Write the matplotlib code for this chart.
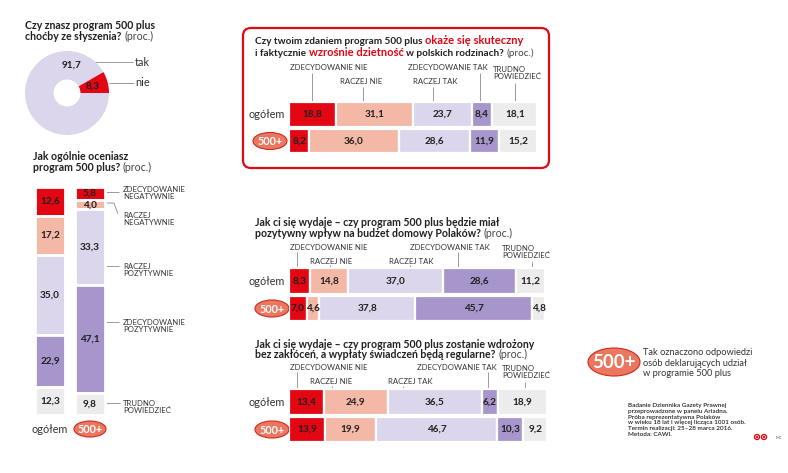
import matplotlib
matplotlib.use('Agg')
import matplotlib.pyplot as plt
from matplotlib.patches import Ellipse, FancyBboxPatch, Circle
import numpy as np

# ---------------- data ----------------
donut_labels = ['tak', 'nie']
donut_values = [91.7, 8.3]

overall_cats = ['ZDECYDOWANIE\nNEGATYWNIE', 'RACZEJ\nNEGATYWNIE', 'RACZEJ\nPOZYTYWNIE',
                'ZDECYDOWANIE\nPOZYTYWNIE', 'TRUDNO\nPOWIEDZIEĆ']
overall_ogolem = [12.6, 17.2, 35.0, 22.9, 12.3]
overall_500 = [5.8, 4.0, 33.3, 47.1, 9.8]

hbar_cats = ['ZDECYDOWANIE NIE', 'RACZEJ NIE', 'RACZEJ TAK', 'ZDECYDOWANIE TAK', 'TRUDNO\nPOWIEDZIEĆ']
row_labels = ['ogółem', '500+']
q1_ogolem = [18.8, 31.1, 23.7, 8.4, 18.1]
q1_500 = [8.2, 36.0, 28.6, 11.9, 15.2]
q2_ogolem = [8.3, 14.8, 37.0, 28.6, 11.2]
q2_500 = [7.0, 4.6, 37.8, 45.7, 4.8]
q3_ogolem = [13.4, 24.9, 36.5, 6.2, 18.9]
q3_500 = [13.9, 19.9, 46.7, 10.3, 9.2]

# ---------------- style ----------------
RED = '#e30613'
PINK = '#f4b8a6'
LAV = '#dcd6ec'
PURP = '#a796cb'
GRAY = '#ececec'
CORAL = '#ea7760'
DARK = '#231f20'
LINE = '#8a8a8a'
seg_colors = [RED, PINK, LAV, PURP, GRAY]

plt.rcParams['font.family'] = ['Lato', 'DejaVu Sans']

W, H = 788, 473
fig = plt.figure(figsize=(W / 100, H / 100), dpi=100)
fig.patch.set_facecolor('white')

# background axes in pixel coordinates (y downwards)
bg = fig.add_axes([0, 0, 1, 1])
bg.set_xlim(0, W)
bg.set_ylim(H, 0)
bg.axis('off')
bg.set_zorder(0)

renderer = fig.canvas.get_renderer()


def T(x, y, s, **kw):
    kw.setdefault('color', DARK)
    return bg.text(x, y, s, **kw)


def L(xs, ys, color=LINE, lw=0.6):
    bg.plot(xs, ys, color=color, lw=lw, solid_capstyle='butt')


def rich(x, y, parts, gap=2.6):
    cx = x
    for s, kw in parts:
        t = T(cx, y, s, va='baseline', ha='left', **kw)
        bb = t.get_window_extent(renderer)
        cx += bb.width + gap


def badge(x, y, w, h, fs):
    bg.add_patch(Ellipse((x, y), w, h, facecolor=CORAL, edgecolor='#d4281c', lw=0.8, zorder=3))
    T(x, y + 0.5, '500+', ha='center', va='center', color='white', fontsize=fs,
      fontweight='bold', zorder=4)


def px_axes(x0, y0, x1, y1):
    ax = fig.add_axes([x0 / W, 1 - y1 / H, (x1 - x0) / W, (y1 - y0) / H])
    ax.axis('off')
    ax.set_zorder(2)
    return ax


BOLD = dict(fontweight='bold')
TFS = 7.6
VFS = 7.2
CFS = 5.6

# ---------------- donut ----------------
rich(25, 29, [('Czy znasz program 500 plus', dict(fontsize=TFS, **BOLD))])
rich(25, 40, [('choćby ze słyszenia?', dict(fontsize=TFS, **BOLD)),
              ('(proc.)', dict(fontsize=TFS, color='#444444'))])

axd = px_axes(25, 51, 109, 135)
axd.pie(donut_values, colors=[LAV, RED], startangle=360 * donut_values[1] / 100,
        counterclock=True, radius=1, wedgeprops=dict(width=0.68, edgecolor='none'))
axd.set_xlim(-1, 1)
axd.set_ylim(-1, 1)
axd.text(0.1, 0.67, f'{donut_values[0]:.1f}'.replace('.', ','), ha='center', va='center',
         fontsize=VFS, fontweight='bold', color=DARK)
ang = np.deg2rad(360 * donut_values[1] / 200)
axd.text(0.62 * np.cos(ang), 0.62 * np.sin(ang), f'{donut_values[1]:.1f}'.replace('.', ','),
         ha='center', va='center', fontsize=VFS, fontweight='bold', color=DARK)
L([93, 133], [62, 62])
L([109, 134], [83, 83])
T(135, 62, donut_labels[0], ha='left', va='center', fontsize=7.8, color='#333333')
T(135, 83, donut_labels[1], ha='left', va='center', fontsize=7.8, color='#333333')

# ---------------- vertical stacked ----------------
rich(33, 160, [('Jak ogólnie oceniasz', dict(fontsize=TFS, **BOLD))])
rich(33, 171, [('program 500 plus?', dict(fontsize=TFS, **BOLD)),
               ('(proc.)', dict(fontsize=TFS, color='#444444'))])

axv = px_axes(30, 187, 110, 415)
axv.set_xlim(-0.5, 1.5)
axv.set_ylim(100, 0)
for xi, vals in enumerate([overall_ogolem, overall_500]):
    bottom = 0
    for v, c in zip(vals, seg_colors):
        axv.bar(xi, v, bottom=bottom, width=0.76, color=c, edgecolor='white', linewidth=2.0)
        axv.text(xi, bottom + v / 2, f'{v:.1f}'.replace('.', ','), ha='center', va='center',
                 fontsize=VFS, fontweight='bold', color=DARK)
        bottom += v

vlab_y = [193, 219, 270, 326, 407]
for lab, yy in zip(overall_cats, vlab_y):
    T(123, yy, lab, ha='left', va='center', fontsize=CFS, color='#333333', linespacing=1.15)
L([106, 119], [192, 192])
L([106, 114, 118], [203, 203, 214])
L([106, 119], [266, 266])
L([106, 119], [322, 322])
L([106, 120], [403, 403])
T(50, 429, row_labels[0], ha='center', va='center', fontsize=7.8, color='#333333')
badge(90, 429, 32, 16, 7.8)

# ---------------- horizontal charts ----------------
def hchart(x0, x1, yc0, yc1, rows, label_pos, leaders, badge_x):
    sp = yc1 - yc0
    ax = px_axes(x0, yc0 - sp / 2, x1, yc1 + sp / 2)
    ax.set_xlim(0, 100)
    ax.set_ylim(1.5, -0.5)
    for ri, vals in enumerate(rows):
        left = 0
        for v, c in zip(vals, seg_colors):
            ax.barh(ri, v, left=left, height=0.92, color=c, edgecolor='white', linewidth=1.6)
            ax.text(left + v / 2, ri, f'{v:.1f}'.replace('.', ','), ha='center', va='center',
                    fontsize=VFS, fontweight='bold', color=DARK)
            left += v
    for lab, (lx, ly) in zip(hbar_cats, label_pos):
        T(lx, ly, lab, ha='left', va='center', fontsize=CFS, color='#333333', linespacing=1.15)
    for (lx, ly0, ly1) in leaders:
        L([lx, lx], [ly0, ly1])
    T(285, yc0, row_labels[0], ha='right', va='center', fontsize=7.8, color='#333333')
    badge(badge_x, yc1, 34, 17, 7.8)


# box for the first chart
bg.add_patch(FancyBboxPatch((243, 28), 306, 140, boxstyle='round,pad=0,rounding_size=8',
                            facecolor='white', edgecolor=RED, lw=1.6, zorder=1))
rich(255, 44, [('Czy twoim zdaniem program 500 plus', dict(fontsize=7.2, **BOLD)),
               ('okaże się skuteczny', dict(fontsize=8.0, color=RED, **BOLD))])
rich(255, 56, [('i faktycznie', dict(fontsize=7.2, **BOLD)),
               ('wzrośnie dzietność', dict(fontsize=8.0, color=RED, **BOLD)),
               ('w polskich rodzinach?', dict(fontsize=7.2, **BOLD)),
               ('(proc.)', dict(fontsize=7.2, color='#444444'))])
hchart(289, 537, 114.5, 141, [q1_ogolem, q1_500],
       [(290, 68), (340, 82), (413, 82), (408, 68), (493, 73)],
       [(312, 73, 102), (363, 87, 102), (433, 87, 102), (480, 73, 102), (515, 83, 102)],
       270)

rich(255, 226, [('Jak ci się wydaje – czy program 500 plus będzie miał', dict(fontsize=TFS, **BOLD))])
rich(255, 237, [('pozytywny wpływ na budżet domowy Polaków?', dict(fontsize=TFS, **BOLD)),
                ('(proc.)', dict(fontsize=TFS, color='#444444'))])
hchart(289, 545, 281, 308.5, [q2_ogolem, q2_500],
       [(290, 247), (310, 261), (389, 261), (410, 247), (502, 252)],
       [(297, 252, 268), (330, 265, 268), (410, 265, 268), (458, 252, 268), (532, 262, 268)],
       272)

rich(255, 348, [('Jak ci się wydaje – czy program 500 plus zostanie wdrożony', dict(fontsize=TFS, **BOLD))])
rich(255, 358, [('bez zakłóceń, a wypłaty świadczeń będą regularne?', dict(fontsize=TFS, **BOLD)),
                ('(proc.)', dict(fontsize=TFS, color='#444444'))])
hchart(289, 547, 402, 429.5, [q3_ogolem, q3_500],
       [(290, 367), (310, 381), (388, 381), (417, 367), (502, 372)],
       [(297, 372, 390), (332, 386, 390), (403, 386, 390), (488, 372, 390), (525, 382, 390)],
       272)

# ---------------- legend & notes ----------------
badge(614, 362, 52, 28, 13.5)
T(643, 363, 'Tak oznaczono odpowiedzi\nosób deklarujących udział\nw programie 500 plus',
  ha='left', va='center', fontsize=6.7, color='#333333', linespacing=1.2)
T(628, 420, 'Badanie Dziennika Gazety Prawnej\nprzeprowadzone w panelu Ariadna.\n'
  'Próba reprezentatywna Polaków\nw wieku 18 lat i więcej licząca 1001 osób.\n'
  'Termin realizacji: 25–28 marca 2016.\nMetoda: CAWI.',
  ha='left', va='center', fontsize=4.6, fontweight='semibold', color='#222222', linespacing=1.2)
for cx in (757, 764):
    bg.add_patch(Circle((cx, 437), 3.2, facecolor=RED, edgecolor='none'))
    bg.add_patch(Circle((cx, 437), 1.5, facecolor='none', edgecolor='white', lw=0.5))
T(776, 438, 'MC', ha='left', va='center', fontsize=3, color='#555555')

fig.savefig('out.png', dpi=100, facecolor='white')
